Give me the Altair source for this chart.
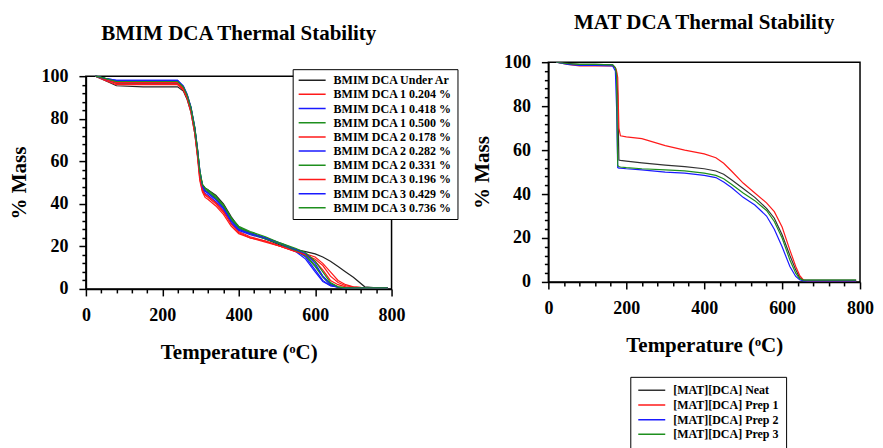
import altair as alt
import pandas as pd

# ---------------- BMIM DCA (left panel) ----------------
bmim_T = [25, 50, 80, 150, 240, 255, 265, 275, 285, 292, 298, 305, 312, 320, 340, 360,
          380, 400, 430, 470, 510, 550, 575, 600, 620, 640, 660, 680, 700, 730, 760, 790]

bmim_under_ar = [100, 98, 95.5, 95, 95, 93, 89, 83, 73, 63, 54, 49, 47.5, 46.5, 44, 40,
                 34, 29, 26.5, 23.5, 20.5, 18.5, 17.5, 16.5, 15, 13, 10.5, 8, 5.5, 1, 0.5, 0.5]
bmim_1_0204 = [100, 98.5, 96.5, 96.5, 96.5, 94, 90, 84, 74, 63, 52, 46, 44, 43, 40, 36,
               31, 27, 24.5, 22.5, 20, 17.5, 16, 14, 11, 6, 3, 1.5, 1, 0.5, 0.5, 0.5]
bmim_1_0418 = [100, 99, 98, 98, 98, 95, 91, 85, 75, 65, 55, 48, 46, 45, 42, 38,
               32, 28, 26, 24, 21, 18, 15, 9, 4, 1.5, 0.8, 0.5, 0.5, 0.5, 0.5, 0.5]
bmim_1_0500 = [100, 99, 97.5, 97.5, 97.5, 95, 91, 85.5, 76, 66, 56, 49, 47, 46, 43, 39,
               33, 29, 26.5, 24, 21.5, 18.5, 16, 11, 6, 2.5, 1, 0.5, 0.5, 0.5, 0.5, 0.5]
bmim_2_0178 = [100, 98, 96, 96, 96, 93.5, 89.5, 83, 73, 62, 51, 45.5, 43, 42, 39, 35,
               29.5, 26, 24, 22.5, 20, 17.5, 16.5, 15, 12, 8, 4, 2, 1, 0.5, 0.5, 0.5]
bmim_2_0282 = [100, 98.5, 97, 97, 97, 94.5, 90.5, 84.5, 75, 65, 54, 47, 45, 44, 41, 37,
               31, 27.5, 25.5, 23.5, 21, 17.5, 14, 8, 3.5, 1.5, 0.8, 0.5, 0.5, 0.5, 0.5, 0.5]
bmim_2_0331 = [100, 99, 97, 97, 97, 94.5, 90.5, 85, 75.5, 65.5, 55, 48.5, 46.5, 45.5, 42.5, 38.5,
               32.5, 28.5, 26, 23.5, 21, 18, 15.5, 10.5, 5.5, 2, 0.8, 0.5, 0.5, 0.5, 0.5, 0.5]
bmim_3_0196 = [100, 98.5, 97, 97, 97, 94, 90, 84, 74, 63.5, 53, 46.5, 44.5, 43.5, 40.5, 36.5,
               30.5, 26.5, 24, 22, 20, 17.5, 16, 13, 9, 4, 2, 1, 0.5, 0.5, 0.5, 0.5]
bmim_3_0429 = [100, 99, 98, 98, 98, 95.5, 91.5, 85.5, 76, 66, 56, 48.5, 46, 45, 42, 38,
               32, 28, 26, 24, 21.5, 18.5, 16.5, 12, 6, 2, 0.8, 0.5, 0.5, 0.5, 0.5, 0.5]
bmim_3_0736 = [100, 99, 97.5, 97.5, 97.5, 95, 91, 85, 75.5, 65.5, 55.5, 49, 47.5, 46.5, 43.5, 39.5,
               33.5, 29.5, 27, 24.5, 21.5, 19, 17, 13, 8, 3, 1, 0.5, 0.5, 0.5, 0.5, 0.5]

bmim_names = ["BMIM DCA Under Ar", "BMIM DCA 1 0.204 %", "BMIM DCA 1 0.418 %",
              "BMIM DCA 1 0.500 %", "BMIM DCA 2 0.178 %", "BMIM DCA 2 0.282 %",
              "BMIM DCA 2 0.331 %", "BMIM DCA 3 0.196 %", "BMIM DCA 3 0.429 %",
              "BMIM DCA 3 0.736 %"]
bmim_series = [bmim_under_ar, bmim_1_0204, bmim_1_0418, bmim_1_0500, bmim_2_0178,
               bmim_2_0282, bmim_2_0331, bmim_3_0196, bmim_3_0429, bmim_3_0736]
bmim_colors = ["#222222", "#ff1a1a", "#1a1aff", "#1e8f1e", "#ff1a1a", "#1a1aff",
               "#1e8f1e", "#ff1a1a", "#1a1aff", "#1e8f1e"]

# ---------------- MAT DCA (right panel) ----------------
mat_T = [20, 50, 80, 120, 165, 172, 175, 178, 181, 185, 200, 240, 300, 350, 400, 430,
         450, 470, 500, 530, 560, 580, 600, 620, 635, 645, 655, 665, 700, 750, 790]

mat_neat = [100, 99.5, 99, 99, 98.8, 97.5, 95, 85, 55.5, 55.3, 55, 54.2, 53.2, 52.5, 51.5, 50.5,
            49, 46.5, 42.5, 38.5, 33.5, 29, 21.5, 12, 5.5, 2, 0.8, 0.8, 0.8, 0.8, 0.8]
mat_prep1 = [100, 99, 98.3, 98.3, 98.3, 97.5, 96, 93, 70, 66.5, 66, 65.2, 62, 60, 58.3, 56.5,
             54, 50.5, 45, 40.5, 36, 32, 25, 14.5, 7, 3, 0.8, 0.5, 0.5, 0.5, 0.5]
mat_prep2 = [100, 99, 98.5, 98.5, 98.3, 96, 80, 52, 51.8, 51.8, 51.5, 51, 50, 49.5, 48.5, 47.5,
             45.5, 43, 38.5, 35, 30, 24, 16, 7, 2.5, 1, 0.5, 0.5, 0.5, 0.5, 0.5]
mat_prep3 = [100, 99.3, 99, 99, 98.8, 97.5, 94, 53, 52.5, 52.3, 52, 51.5, 51, 50.5, 49.5, 48.5,
             47, 44.5, 40.5, 37, 32.5, 27.5, 20, 10, 4, 1.5, 0.8, 0.8, 0.8, 0.8, 0.8]

mat_names = ["[MAT][DCA] Neat", "[MAT][DCA] Prep 1", "[MAT][DCA] Prep 2", "[MAT][DCA] Prep 3"]
mat_series = [mat_neat, mat_prep1, mat_prep2, mat_prep3]
mat_colors = ["#333333", "#ff1a1a", "#1a1aff", "#1e8f1e"]

x_tick_values = list(range(0, 801, 40))
y_tick_values = list(range(0, 101, 4))

FONT = "Liberation Serif"


def long_df(T, names, series):
    rows = []
    for name, vals in zip(names, series):
        for t, m in zip(T, vals):
            rows.append({"series": name, "temp": t, "mass": m})
    return pd.DataFrame(rows)


def x_axis():
    return alt.Axis(
        values=x_tick_values,
        labelExpr="datum.value % 200 == 0 ? datum.label : ''",
        tickSize={"condition": {"test": "datum.value % 200 == 0", "value": 7}, "value": 4},
        labelOverlap=False, labelFlush=False, grid=False,
        domainColor="black", domainWidth=1.5, tickColor="black", tickWidth=1.5,
        labelFont=FONT, labelFontSize=18, labelFontWeight="bold", labelColor="black",
        labelPadding=11,
        title="Temperature (ᵒC)", titleFont=FONT, titleFontSize=21, titleFontWeight="bold",
        titleColor="black", titlePadding=17,
    )


def y_axis():
    return alt.Axis(
        values=y_tick_values,
        labelExpr="datum.value % 20 == 0 ? datum.label : ''",
        tickSize={"condition": {"test": "datum.value % 20 == 0", "value": 7}, "value": 4},
        labelOverlap=False, labelFlush=False, grid=False,
        domainColor="black", domainWidth=1.5, tickColor="black", tickWidth=1.5,
        labelFont=FONT, labelFontSize=18, labelFontWeight="bold", labelColor="black",
        labelPadding=11,
        title="% Mass", titleFont=FONT, titleFontSize=21, titleFontWeight="bold",
        titleColor="black", titlePadding=11,
    )


def title(text, offset):
    return alt.TitleParams(text, font=FONT, fontSize=21, fontWeight="bold", color="black",
                           anchor="middle", offset=offset)


x_scale = alt.Scale(domain=[0, 800], nice=False)


def lines(df, names, colors, legend, y_scale):
    return alt.Chart(df).mark_line(strokeWidth=1.2, clip=True).encode(
        x=alt.X("temp:Q", scale=x_scale, axis=x_axis()),
        y=alt.Y("mass:Q", scale=y_scale, axis=y_axis()),
        color=alt.Color("series:N", scale=alt.Scale(domain=names, range=colors), legend=legend),
    )


left_legend = alt.Legend(
    orient="none", legendX=207, legendY=7, title=None, symbolType="stroke",
    symbolSize=729, symbolStrokeWidth=1.5, clipHeight=12, rowPadding=2.2, labelOffset=7,
    labelFont=FONT, labelFontSize=12, labelFontWeight="bold", labelColor="black",
    labelLimit=300, strokeColor="black", fillColor="white", padding=5,
)
right_legend = alt.Legend(
    orient="none", legendX=82, legendY=315, title=None, symbolType="stroke",
    symbolSize=729, symbolStrokeWidth=1.5, clipHeight=13, rowPadding=1.7, labelOffset=7,
    labelFont=FONT, labelFontSize=12, labelFontWeight="bold", labelColor="black",
    labelLimit=300, strokeColor="black", fillColor="white", padding=7,
)

# Left panel: its plot frame sits 14 px lower than the right one, so the y range
# leaves a band at the top and the frame is drawn as a rectangle at the domain edges.
LEFT_H = 227
left_scale = alt.Scale(domain=[0, 100], nice=False, range=[LEFT_H, 14])
frame_df = pd.DataFrame({"x0": [0], "x1": [800], "y0": [0], "y1": [100]})
left_lines = lines(long_df(bmim_T, bmim_names, bmim_series), bmim_names, bmim_colors,
                   left_legend, left_scale)
frame = alt.Chart(frame_df).mark_rect(fill=None, stroke="black", strokeWidth=1.5).encode(
    x=alt.X("x0:Q", scale=x_scale, axis=x_axis()), x2="x1",
    y=alt.Y("y0:Q", scale=left_scale, axis=y_axis()), y2="y1",
)
left = alt.layer(frame, left_lines).properties(
    width=306, height=LEFT_H, title=title("BMIM DCA Thermal Stability", 18),
    view=alt.ViewBackground(stroke=None),
)

right = lines(long_df(mat_T, mat_names, mat_series), mat_names, mat_colors, right_legend,
              alt.Scale(domain=[0, 100], nice=False)).properties(
    width=312, height=220, title=title("MAT DCA Thermal Stability", 20),
    view=alt.ViewBackground(stroke="black", strokeWidth=1.5),
)

chart = alt.hconcat(left, right, spacing=12).resolve_scale(
    color="independent"
).resolve_legend(
    color="independent"
).properties(
    padding={"left": 1, "top": 3, "right": 0, "bottom": 0}
)

chart.save("out.html", embed_options={"renderer": "svg", "actions": False})
